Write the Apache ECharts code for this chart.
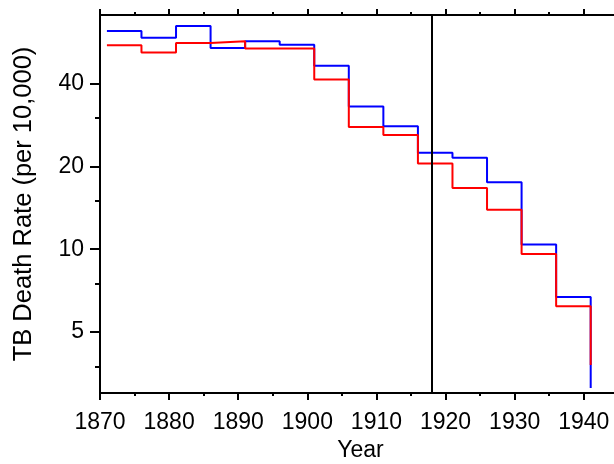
<!DOCTYPE html>
<html>
<head>
<meta charset="utf-8">
<script src="https://cdn.jsdelivr.net/npm/echarts@6/dist/echarts.min.js"></script>
<style>html,body{margin:0;padding:0;background:#fff}#c{width:614px;height:464px}</style>
</head>
<body>
<div id="c"></div>
<script>
// Data
var years = [1871, 1876, 1881, 1886, 1891, 1896, 1901, 1906, 1911, 1916, 1921, 1926, 1931, 1936, 1941];
var blueRates = [62.1, 58.7, 64.8, 53.9, 57.0, 55.4, 46.4, 33.0, 28.0, 22.4, 21.5, 17.5, 10.4, 6.7, 3.13];
var redRates  = [55.1, 51.9, 56.2, 57.0, 53.6, 53.6, 41.4, 27.8, 26.0, 20.5, 16.7, 13.9, 9.6, 6.2, 3.79];
var markerYear = 1918;
var yMajorTicks = [5, 10, 20, 40];
var yMinorTicks = [3.75, 7.5, 15, 30];

var FONT = 'Liberation Sans, Arial, Helvetica, sans-serif';
function pairs(xs, ys) { return xs.map(function (x, i) { return [x, ys[i]]; }); }
function plain(v) { return String(v); }

var chart = echarts.init(document.getElementById('c'), null, {renderer: 'canvas'});
var xCommon = {
  type: 'value', min: 1870, max: 1950, interval: 10,
  axisLine: {show: true, onZero: false, lineStyle: {color: '#000', width: 2}},
  splitLine: {show: false}
};
chart.setOption({
  animation: false,
  backgroundColor: '#fff',
  grid: {left: 100, width: 552.9, top: 15, height: 378, containLabel: false, outerBoundsMode: 'none'},
  xAxis: [
    Object.assign({}, xCommon, {
      position: 'bottom',
      name: 'Year', nameLocation: 'middle', nameGap: 45,
      nameTextStyle: {fontFamily: FONT, fontSize: 23, color: '#000', padding: [0, 32, 0, 0]},
      axisTick: {show: true, length: 7, lineStyle: {color: '#000', width: 2}},
      minorTick: {show: true, splitNumber: 2, length: 3, lineStyle: {color: '#000', width: 2}},
      axisLabel: {fontFamily: FONT, fontSize: 23, color: '#000', margin: 18, formatter: plain}
    }),
    Object.assign({}, xCommon, {
      position: 'top',
      axisTick: {show: true, length: 6, lineStyle: {color: '#000', width: 2}},
      minorTick: {show: true, splitNumber: 2, length: 3, lineStyle: {color: '#000', width: 2}},
      axisLabel: {show: false}
    })
  ],
  yAxis: [
    {
      type: 'log', min: 3, max: 71, position: 'left',
      name: 'TB Death Rate (per 10,000)', nameLocation: 'middle', nameGap: 63, nameRotate: 90,
      nameTextStyle: {fontFamily: FONT, fontSize: 25.5, color: '#000'},
      axisLine: {show: true, lineStyle: {color: '#000', width: 2}},
      axisTick: {show: true, length: 10, customValues: yMajorTicks, lineStyle: {color: '#000', width: 2}},
      axisLabel: {fontFamily: FONT, fontSize: 23, color: '#000', margin: 16, customValues: yMajorTicks, formatter: plain},
      splitLine: {show: false}, minorTick: {show: false}
    },
    {
      type: 'log', min: 3, max: 71, position: 'left',
      axisLine: {show: true, lineStyle: {color: '#000', width: 2}},
      axisTick: {show: true, length: 5, customValues: yMinorTicks, lineStyle: {color: '#000', width: 2}},
      axisLabel: {show: false},
      splitLine: {show: false}, minorTick: {show: false}
    }
  ],
  series: [
    {
      type: 'line', step: 'end', showSymbol: false, symbol: 'none',
      xAxisIndex: 0, yAxisIndex: 0,
      data: pairs(years, blueRates),
      lineStyle: {color: '#0000ff', width: 2}, itemStyle: {color: '#0000ff'},
      markLine: {
        silent: true, symbol: 'none', label: {show: false},
        lineStyle: {color: '#000', width: 2, type: 'solid'},
        data: [{xAxis: markerYear}]
      }
    },
    {
      type: 'line', step: 'end', showSymbol: false, symbol: 'none',
      xAxisIndex: 0, yAxisIndex: 0,
      data: pairs(years, redRates),
      lineStyle: {color: '#ff0000', width: 2}, itemStyle: {color: '#ff0000'}
    }
  ]
});
</script>
</body>
</html>
